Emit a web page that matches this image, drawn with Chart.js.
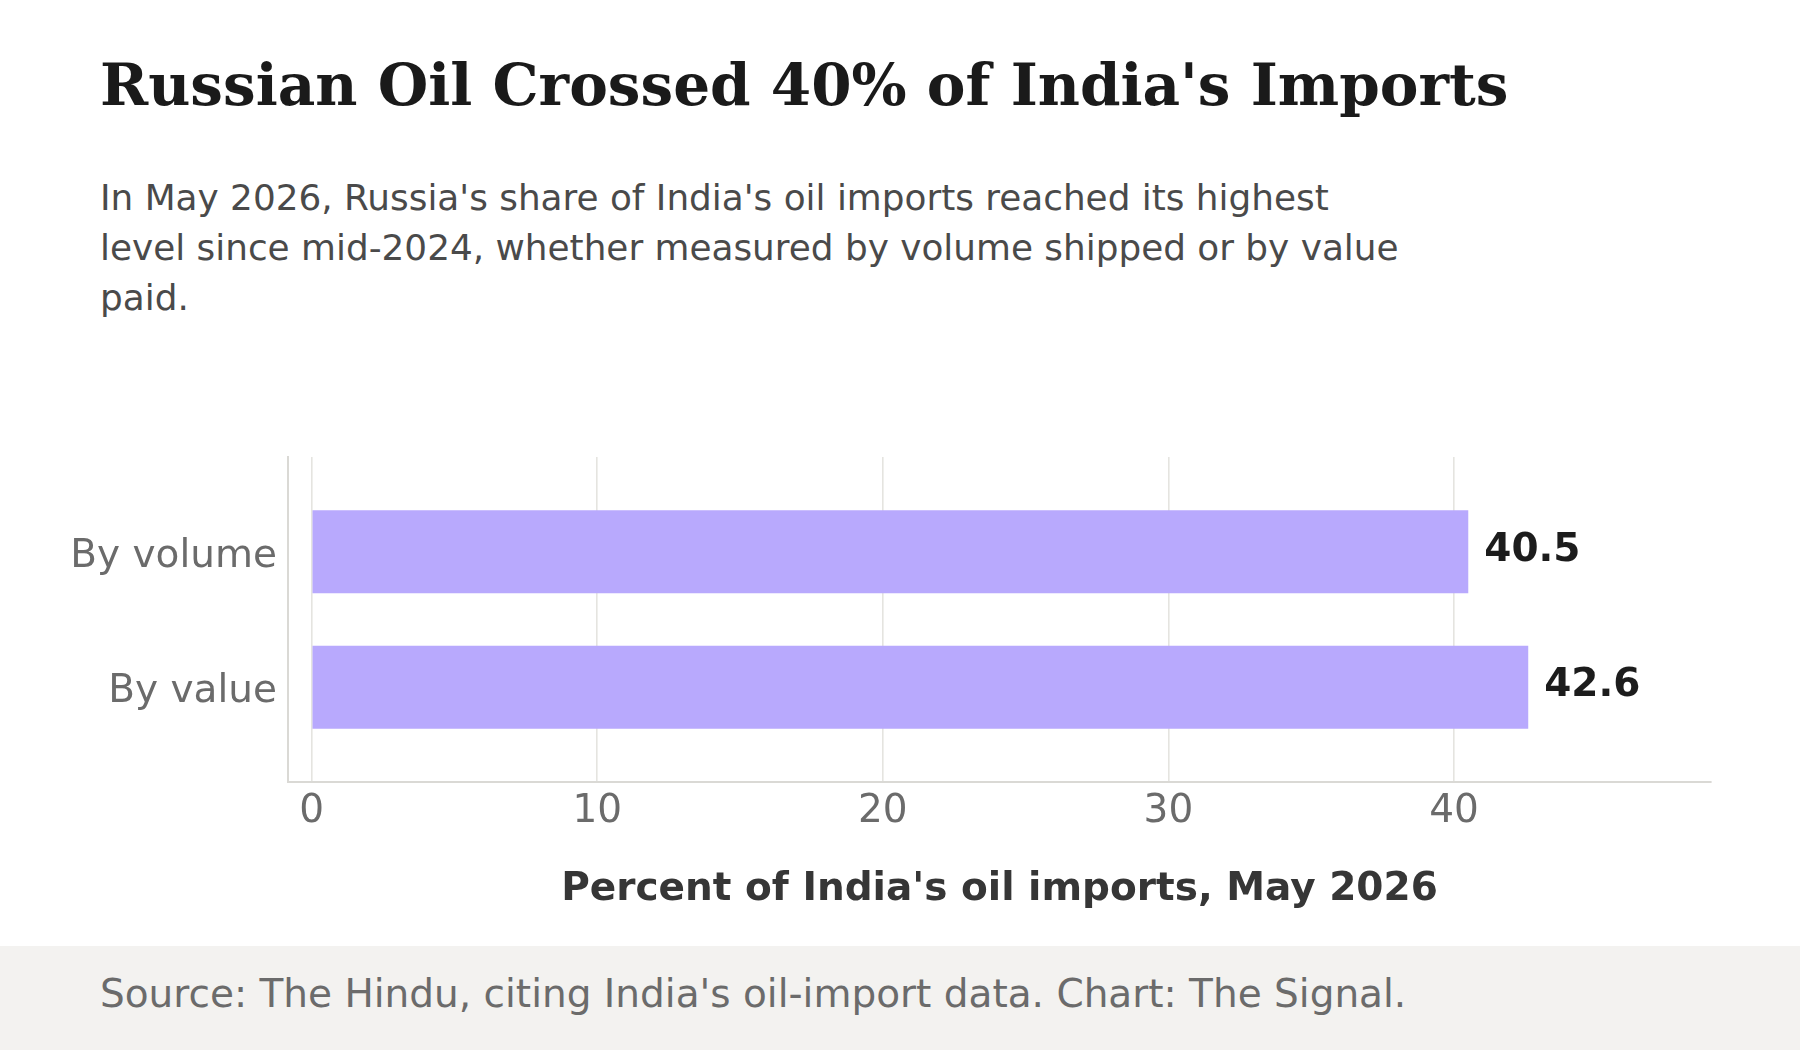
<!DOCTYPE html>
<html>
<head>
<meta charset="utf-8">
<script src="https://cdn.jsdelivr.net/npm/chart.js@4.4.1/dist/chart.umd.min.js"></script>
<style>
  html, body { margin: 0; padding: 0; background: #ffffff; }
  body { width: 1800px; height: 1050px; position: relative; overflow: hidden; }
  .title {
    position: absolute; left: 100px; top: 56px;
    font-family: "DejaVu Serif", serif; font-weight: bold; font-size: 58px;
    line-height: 1; color: #1a1a1a; white-space: nowrap;
  }
  .subtitle {
    position: absolute; left: 100px; top: 173px;
    font-family: "DejaVu Sans", sans-serif; font-size: 35.85px;
    line-height: 50px; color: #4a4a4a; white-space: nowrap;
  }
  .chart-box { position: absolute; left: 0; top: 400px; width: 1800px; height: 540px; }
  .footer {
    position: absolute; left: 0; top: 946px; width: 1800px; height: 104px;
    background: #f3f2f0;
  }
  .footer p {
    position: absolute; left: 100px; top: 28px; margin: 0;
    font-family: "DejaVu Sans", sans-serif; font-size: 39px; line-height: 1;
    color: #6b6b6b; white-space: nowrap;
  }
</style>
</head>
<body>
<div class="title">Russian Oil Crossed 40% of India's Imports</div>
<div class="subtitle">In May 2026, Russia's share of India's oil imports reached its highest<br>level since mid-2024, whether measured by volume shipped or by value<br>paid.</div>
<div class="chart-box"><canvas id="share-chart"></canvas></div>
<div class="footer"><p>Source: The Hindu, citing India's oil-import data. Chart: The Signal.</p></div>

<script>
const categories = ["By volume", "By value"];
const shareValues = [40.5, 42.6];
const xTicks = [0, 10, 20, 30, 40];

const barColor = "#b8a9fd";
const gridColor = "#e5e4e0";
const axisColor = "#dad9d5";

// writes the number at the end of each bar
const valueLabels = {
  id: "valueLabels",
  afterDatasetsDraw(chart) {
    const ctx = chart.ctx;
    const meta = chart.getDatasetMeta(0);
    ctx.save();
    ctx.font = "bold 39px 'DejaVu Sans'";
    ctx.fillStyle = "#1c1c1c";
    ctx.textAlign = "left";
    ctx.textBaseline = "middle";
    meta.data.forEach((bar, i) => {
      ctx.fillText(shareValues[i].toFixed(1), bar.x + 16, bar.y - 1);
    });
    ctx.restore();
  },
};

const ctx = document.getElementById("share-chart").getContext("2d");
new Chart(ctx, {
  type: "bar",
  data: {
    datasets: [
      {
        data: shareValues.map((v, i) => ({ x: v, y: i })),
        backgroundColor: barColor,
        borderWidth: 0,
        categoryPercentage: 1,
        barPercentage: 0.613,
      },
    ],
  },
  options: {
    indexAxis: "y",
    responsive: true,
    maintainAspectRatio: false,
    animation: false,
    layout: {
      padding: { top: 57, right: 89, bottom: 0, left: 0 },
    },
    plugins: {
      legend: { display: false },
      tooltip: { enabled: false },
    },
    scales: {
      x: {
        type: "linear",
        min: -0.83,
        max: 49,
        afterFit: (scale) => { scale.height = 158; },
        afterBuildTicks: (scale) => { scale.ticks = xTicks.map((v) => ({ value: v })); },
        grid: { color: gridColor, lineWidth: 1.6, drawTicks: false },
        border: { display: true, color: axisColor, width: 2 },
        ticks: {
          padding: 6,
          color: "#6b6b6b",
          font: { family: "DejaVu Sans", size: 39 },
          callback: (v) => v,
        },
        title: {
          display: true,
          text: "Percent of India's oil imports, May 2026",
          color: "#363636",
          font: { family: "DejaVu Sans", size: 39, weight: "bold" },
          padding: { top: 0, bottom: 27 },
        },
      },
      y: {
        type: "linear",
        reverse: true,
        offset: false,
        min: -0.7,
        max: 1.7,
        afterFit: (scale) => { scale.width = 288; },
        afterBuildTicks: (scale) => { scale.ticks = categories.map((c, i) => ({ value: i })); },
        grid: { display: false, drawTicks: false, offset: false },
        border: { display: true, color: axisColor, width: 2 },
        ticks: {
          padding: 11,
          labelOffset: 5,
          color: "#6b6b6b",
          font: { family: "DejaVu Sans", size: 39 },
          callback: (v) => categories[v],
        },
      },
    },
  },
  plugins: [valueLabels],
});
</script>
</body>
</html>
